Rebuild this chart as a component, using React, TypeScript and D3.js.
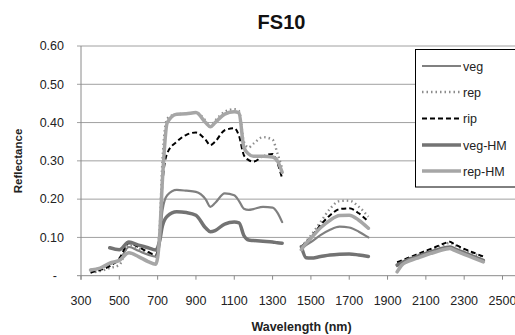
import React from 'react';
import * as d3 from 'd3';

// wavelengths (nm); 1400 and 1900 are the water-absorption gaps (null values)
const wavelengths = [
  350, 400, 450, 500, 550, 600, 650, 690, 710, 725, 750, 800, 850, 900, 950, 975, 1000, 1050, 1100, 1125, 1150, 1175, 1200, 1250, 1300, 1325, 1350,
  1400,
  1450, 1475, 1500, 1550, 1600, 1650, 1700, 1750, 1800,
  1900,
  1950, 1975, 2000, 2050, 2100, 2150, 2200, 2225, 2250, 2300, 2350, 2400,
];

const veg = [
  0.015, 0.02, 0.03, 0.04, 0.075, 0.065, 0.055, 0.05, 0.08, 0.17, 0.21, 0.224, 0.222, 0.219, 0.2, 0.18, 0.19, 0.215, 0.21, 0.195, 0.175, 0.172, 0.174, 0.18, 0.178, 0.165, 0.14,
  null,
  0.07, 0.08, 0.088, 0.106, 0.12, 0.128, 0.126, 0.115, 0.1,
  null,
  0.025, 0.032, 0.037, 0.046, 0.055, 0.063, 0.07, 0.072, 0.068, 0.058, 0.048, 0.038,
];

const rep = [
  0.008, 0.012, 0.02, 0.028, 0.08, 0.07, 0.06, 0.05, 0.12, 0.3, 0.41, 0.422, 0.423, 0.426, 0.405, 0.39, 0.405, 0.428, 0.435, 0.43, 0.35, 0.335, 0.345, 0.362, 0.355, 0.32, 0.28,
  null,
  0.075, 0.09, 0.105, 0.14, 0.175, 0.195, 0.196, 0.18, 0.154,
  null,
  0.03, 0.036, 0.042, 0.052, 0.062, 0.072, 0.082, 0.086, 0.08, 0.068, 0.057, 0.048,
];

const rip = [
  0.008, 0.015, 0.025, 0.045, 0.085, 0.075, 0.062, 0.055, 0.1, 0.24, 0.32, 0.35, 0.368, 0.374, 0.355, 0.341, 0.35, 0.38, 0.385, 0.365, 0.315, 0.302, 0.298, 0.312, 0.318, 0.295, 0.254,
  null,
  0.075, 0.088, 0.1, 0.132, 0.158, 0.174, 0.176, 0.163, 0.141,
  null,
  0.035, 0.04, 0.045, 0.055, 0.065, 0.075, 0.085, 0.089, 0.082, 0.07, 0.06, 0.05,
];

const vegHM = [
  null, null, 0.073, 0.068, 0.088, 0.08, 0.073, 0.067, 0.09, 0.13, 0.155, 0.167, 0.165, 0.158, 0.125, 0.115, 0.118, 0.135, 0.14, 0.138, 0.105, 0.093, 0.092, 0.09, 0.088, 0.086, 0.085,
  null,
  0.076, 0.047, 0.046, 0.05, 0.054, 0.056, 0.057, 0.054, 0.05,
  null,
  0.028, 0.034, 0.04, 0.049, 0.058, 0.066, 0.073, 0.075, 0.07, 0.06, 0.05, 0.04,
];

const repHM = [
  0.015, 0.02, 0.033, 0.04, 0.06, 0.05, 0.037, 0.03, 0.1, 0.25, 0.4, 0.422, 0.423, 0.426, 0.4, 0.389, 0.4, 0.422, 0.428, 0.425, 0.335, 0.318, 0.312, 0.312, 0.31, 0.3, 0.27,
  null,
  0.068, 0.085, 0.098, 0.125, 0.145, 0.157, 0.158, 0.145, 0.124,
  null,
  0.01, 0.028, 0.036, 0.045, 0.054, 0.062, 0.069, 0.071, 0.066, 0.056, 0.046, 0.036,
];

const xTicks = [300, 500, 700, 900, 1100, 1300, 1500, 1700, 1900, 2100, 2300, 2500];
const yTicks = [0, 0.1, 0.2, 0.3, 0.4, 0.5, 0.6];

const series = [
  { name: 'veg', values: veg, color: '#808080', width: 2.2, dash: null },
  { name: 'rep', values: rep, color: '#8c8c8c', width: 2.4, dash: '1.5,3' },
  { name: 'rip', values: rip, color: '#000000', width: 2, dash: '5,3' },
  { name: 'veg-HM', values: vegHM, color: '#737373', width: 3.5, dash: null },
  { name: 'rep-HM', values: repHM, color: '#a6a6a6', width: 3.5, dash: null },
];

const W = 515;
const H = 335;

export default function App() {
  const x = d3.scaleLinear().domain([300, 2500]).range([81, 502.5]);
  const y = d3.scaleLinear().domain([0, 0.6]).range([275.7, 46]);

  const path = d3
    .line<[number, number | null]>()
    .defined((d) => d[1] !== null)
    .x((d) => x(d[0]))
    .y((d) => y(d[1] as number))
    .curve(d3.curveMonotoneX);

  const font = "'Liberation Sans', Arial, sans-serif";
  const legendY = [66, 92, 118.5, 145, 171];

  return (
    <svg width={W} height={H} style={{ position: 'absolute', left: 0, top: 0, background: '#fff' }} fontFamily={font}>
      <rect width={W} height={H} fill="#fff" />
      {/* gridlines */}
      {yTicks.filter((t) => t > 0).map((t) => (
        <line key={t} x1={77} x2={W} y1={y(t)} y2={y(t)} stroke="#a0a0a0" strokeWidth={1} />
      ))}
      {/* axes */}
      <line x1={81} x2={81} y1={y(0.6)} y2={y(0) + 4} stroke="#8a8a8a" />
      <line x1={77} x2={W} y1={y(0)} y2={y(0)} stroke="#8a8a8a" />
      {xTicks.map((t) => (
        <g key={t}>
          <line x1={x(t)} x2={x(t)} y1={y(0)} y2={y(0) + 4} stroke="#8a8a8a" />
          <text x={x(t)} y={304.5} textAnchor="middle" fontSize={12.5} fill="#222">
            {t}
          </text>
        </g>
      ))}
      {yTicks.map((t) => (
        <text key={t} x={t === 0 ? 57 : 64} y={y(t) + 4.3} textAnchor="end" fontSize={12.5} fill="#222">
          {t === 0 ? '-' : t.toFixed(2)}
        </text>
      ))}
      {/* series */}
      {series.map((s) => (
        <path
          key={s.name}
          d={path(wavelengths.map((w, i) => [w, s.values[i]] as [number, number | null])) || ''}
          fill="none"
          stroke={s.color}
          strokeWidth={s.width}
          strokeDasharray={s.dash || undefined}
          strokeLinejoin="round"
          strokeLinecap={s.dash ? 'butt' : 'round'}
        />
      ))}
      {/* legend, cut off at the right edge like the original */}
      <rect x={415.5} y={49.5} width={120} height={137.5} fill="#fff" stroke="#000" strokeWidth={1} />
      {series.map((s, i) => (
        <g key={s.name}>
          <line
            x1={422}
            x2={461}
            y1={legendY[i]}
            y2={legendY[i]}
            stroke={s.color}
            strokeWidth={s.width}
            strokeDasharray={s.dash || undefined}
          />
          <text x={463} y={legendY[i] + 4.5} fontSize={12.5} fill="#222">
            {s.name}
          </text>
        </g>
      ))}
      {/* titles */}
      <text x={281.5} y={29} textAnchor="middle" fontSize={20} fontWeight="bold" fill="#111">
        FS10
      </text>
      <text x={301.5} y={331} textAnchor="middle" fontSize={12.5} fontWeight="bold" fill="#222">
        Wavelength (nm)
      </text>
      <text
        transform={`translate(21.5,161) rotate(-90)`}
        textAnchor="middle"
        fontSize={11.5}
        fontWeight="bold"
        fill="#222"
      >
        Reflectance
      </text>
    </svg>
  );
}
